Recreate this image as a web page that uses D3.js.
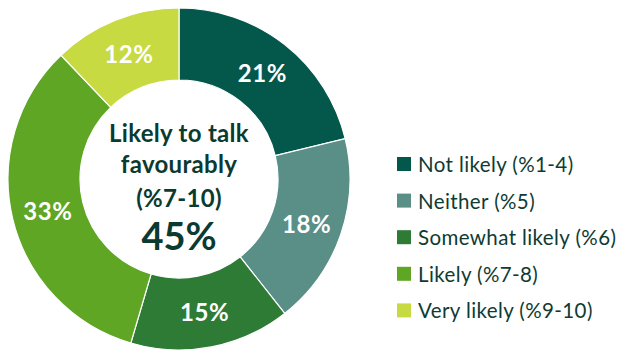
<!DOCTYPE html>
<html>
<head>
<meta charset="utf-8">
<script src="https://cdn.jsdelivr.net/npm/d3@7"></script>
<style>
  html, body { margin: 0; padding: 0; background: #fff; }
  svg { display: block; font-family: Lato, "Open Sans", sans-serif; }
</style>
</head>
<body>
<svg id="chart" width="627" height="352"></svg>
<script>
const categories = ["Not likely (%1-4)", "Neither (%5)", "Somewhat likely (%6)", "Likely (%7-8)", "Very likely (%9-10)"];
const values = [21, 18, 15, 33, 12];
const colors = ["#04574B", "#5A8F88", "#2E7B36", "#5EA624", "#C8DA41"];
const centerLines = ["Likely to talk", "favourably", "(%7-10)"];
const centerValue = "45%";

const svg = d3.select("#chart");
const cx = 179, cy = 179, outerR = 171, innerR = 99;
const g = svg.append("g").attr("transform", `translate(${cx},${cy})`);

const data = categories.map((c, i) => ({ cat: c, value: values[i], color: colors[i] }));
const pie = d3.pie().value(d => d.value).sort(null);
const arc = d3.arc().innerRadius(innerR).outerRadius(outerR);
const labelArc = d3.arc().innerRadius((innerR + outerR) / 2).outerRadius((innerR + outerR) / 2);
const arcs = pie(data);

g.selectAll("path.slice").data(arcs).join("path")
  .attr("class", "slice")
  .attr("d", arc)
  .attr("fill", d => d.data.color)
  .attr("stroke", "#fff")
  .attr("stroke-width", 1.2);

g.selectAll("text.lbl").data(arcs).join("text")
  .attr("class", "lbl")
  .attr("transform", d => `translate(${labelArc.centroid(d)})`)
  .attr("text-anchor", "middle")
  .attr("dominant-baseline", "central")
  .attr("fill", "#fff")
  .attr("font-weight", 700)
  .attr("font-size", 24)
  .attr("letter-spacing", 0.6)
  .text(d => d.data.value + "%");

const ctext = "#0B3A31";
const lineY = [-37, -6, 28];
g.selectAll("text.ctr").data(centerLines).join("text")
  .attr("class", "ctr")
  .attr("x", 0)
  .attr("y", (d, i) => lineY[i])
  .attr("text-anchor", "middle")
  .attr("fill", ctext)
  .attr("font-weight", 700)
  .attr("font-size", 24)
  .attr("letter-spacing", 0.3)
  .text(d => d);
g.append("text")
  .attr("x", 0).attr("y", 71)
  .attr("text-anchor", "middle")
  .attr("fill", ctext)
  .attr("font-weight", 700)
  .attr("font-size", 38)
  .text(centerValue);

const legend = svg.append("g").attr("transform", "translate(397,164)");
const rowH = 36.6;
const rows = legend.selectAll("g.row").data(data).join("g")
  .attr("class", "row")
  .attr("transform", (d, i) => `translate(0,${i * rowH})`);
rows.append("rect")
  .attr("x", 0).attr("y", -7).attr("width", 14).attr("height", 14)
  .attr("fill", d => d.color);
rows.append("text")
  .attr("x", 21).attr("y", 0)
  .attr("dominant-baseline", "central")
  .attr("fill", "#0E3B33")
  .attr("font-size", 20.5)
  .attr("letter-spacing", 0.4)
  .text(d => d.cat);
</script>
</body>
</html>
